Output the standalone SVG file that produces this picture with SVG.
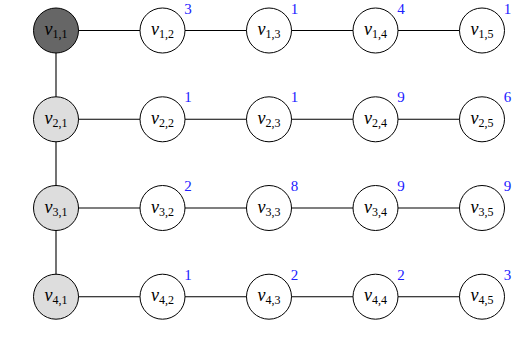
<svg xmlns="http://www.w3.org/2000/svg" width="524" height="356" viewBox="0 0 524 356">
<style>
.n{stroke:#000;stroke-width:1;fill:#fff}
.dk{fill:#666}
.lt{fill:#ddd}
.e{stroke:#000;stroke-width:1.1;fill:none}
.l{font-family:"Liberation Serif","DejaVu Serif",serif;font-size:18px;text-anchor:middle;fill:#000}
.v{font-style:italic}
.s{font-size:12px}
.w{font-family:"Liberation Serif","DejaVu Serif",serif;font-size:15px;text-anchor:middle;fill:#2020ff}
</style>
<rect width="524" height="356" fill="#fff"/>
<g id="edges">
<path class="e" d="M56 30.5H482M56 119.3H482M56 208H482M56 296.7H482M56 30.5V296.7"/>
</g>
<g id="v11"><circle class="n dk" cx="56" cy="30.5" r="22.5"/><text class="l" x="56" y="35"><tspan class="v">v</tspan><tspan class="s" dy="3">1,1</tspan></text></g>
<g id="v12"><circle class="n" cx="162.5" cy="30.5" r="22.5"/><text class="l" x="162.5" y="35"><tspan class="v">v</tspan><tspan class="s" dy="3">1,2</tspan></text><text class="w" x="188" y="13.5">3</text></g>
<g id="v13"><circle class="n" cx="269" cy="30.5" r="22.5"/><text class="l" x="269" y="35"><tspan class="v">v</tspan><tspan class="s" dy="3">1,3</tspan></text><text class="w" x="294.5" y="13.5">1</text></g>
<g id="v14"><circle class="n" cx="375.5" cy="30.5" r="22.5"/><text class="l" x="375.5" y="35"><tspan class="v">v</tspan><tspan class="s" dy="3">1,4</tspan></text><text class="w" x="401" y="13.5">4</text></g>
<g id="v15"><circle class="n" cx="482" cy="30.5" r="22.5"/><text class="l" x="482" y="35"><tspan class="v">v</tspan><tspan class="s" dy="3">1,5</tspan></text><text class="w" x="507.5" y="13.5">1</text></g>

<g id="v21"><circle class="n lt" cx="56" cy="119.3" r="22.5"/><text class="l" x="56" y="123.8"><tspan class="v">v</tspan><tspan class="s" dy="3">2,1</tspan></text></g>
<g id="v22"><circle class="n" cx="162.5" cy="119.3" r="22.5"/><text class="l" x="162.5" y="123.8"><tspan class="v">v</tspan><tspan class="s" dy="3">2,2</tspan></text><text class="w" x="188" y="102.3">1</text></g>
<g id="v23"><circle class="n" cx="269" cy="119.3" r="22.5"/><text class="l" x="269" y="123.8"><tspan class="v">v</tspan><tspan class="s" dy="3">2,3</tspan></text><text class="w" x="294.5" y="102.3">1</text></g>
<g id="v24"><circle class="n" cx="375.5" cy="119.3" r="22.5"/><text class="l" x="375.5" y="123.8"><tspan class="v">v</tspan><tspan class="s" dy="3">2,4</tspan></text><text class="w" x="401" y="102.3">9</text></g>
<g id="v25"><circle class="n" cx="482" cy="119.3" r="22.5"/><text class="l" x="482" y="123.8"><tspan class="v">v</tspan><tspan class="s" dy="3">2,5</tspan></text><text class="w" x="507.5" y="102.3">6</text></g>

<g id="v31"><circle class="n lt" cx="56" cy="208" r="22.5"/><text class="l" x="56" y="212.5"><tspan class="v">v</tspan><tspan class="s" dy="3">3,1</tspan></text></g>
<g id="v32"><circle class="n" cx="162.5" cy="208" r="22.5"/><text class="l" x="162.5" y="212.5"><tspan class="v">v</tspan><tspan class="s" dy="3">3,2</tspan></text><text class="w" x="188" y="191">2</text></g>
<g id="v33"><circle class="n" cx="269" cy="208" r="22.5"/><text class="l" x="269" y="212.5"><tspan class="v">v</tspan><tspan class="s" dy="3">3,3</tspan></text><text class="w" x="294.5" y="191">8</text></g>
<g id="v34"><circle class="n" cx="375.5" cy="208" r="22.5"/><text class="l" x="375.5" y="212.5"><tspan class="v">v</tspan><tspan class="s" dy="3">3,4</tspan></text><text class="w" x="401" y="191">9</text></g>
<g id="v35"><circle class="n" cx="482" cy="208" r="22.5"/><text class="l" x="482" y="212.5"><tspan class="v">v</tspan><tspan class="s" dy="3">3,5</tspan></text><text class="w" x="507.5" y="191">9</text></g>

<g id="v41"><circle class="n lt" cx="56" cy="296.7" r="22.5"/><text class="l" x="56" y="301.2"><tspan class="v">v</tspan><tspan class="s" dy="3">4,1</tspan></text></g>
<g id="v42"><circle class="n" cx="162.5" cy="296.7" r="22.5"/><text class="l" x="162.5" y="301.2"><tspan class="v">v</tspan><tspan class="s" dy="3">4,2</tspan></text><text class="w" x="188" y="279.7">1</text></g>
<g id="v43"><circle class="n" cx="269" cy="296.7" r="22.5"/><text class="l" x="269" y="301.2"><tspan class="v">v</tspan><tspan class="s" dy="3">4,3</tspan></text><text class="w" x="294.5" y="279.7">2</text></g>
<g id="v44"><circle class="n" cx="375.5" cy="296.7" r="22.5"/><text class="l" x="375.5" y="301.2"><tspan class="v">v</tspan><tspan class="s" dy="3">4,4</tspan></text><text class="w" x="401" y="279.7">2</text></g>
<g id="v45"><circle class="n" cx="482" cy="296.7" r="22.5"/><text class="l" x="482" y="301.2"><tspan class="v">v</tspan><tspan class="s" dy="3">4,5</tspan></text><text class="w" x="507.5" y="279.7">3</text></g>
</svg>
